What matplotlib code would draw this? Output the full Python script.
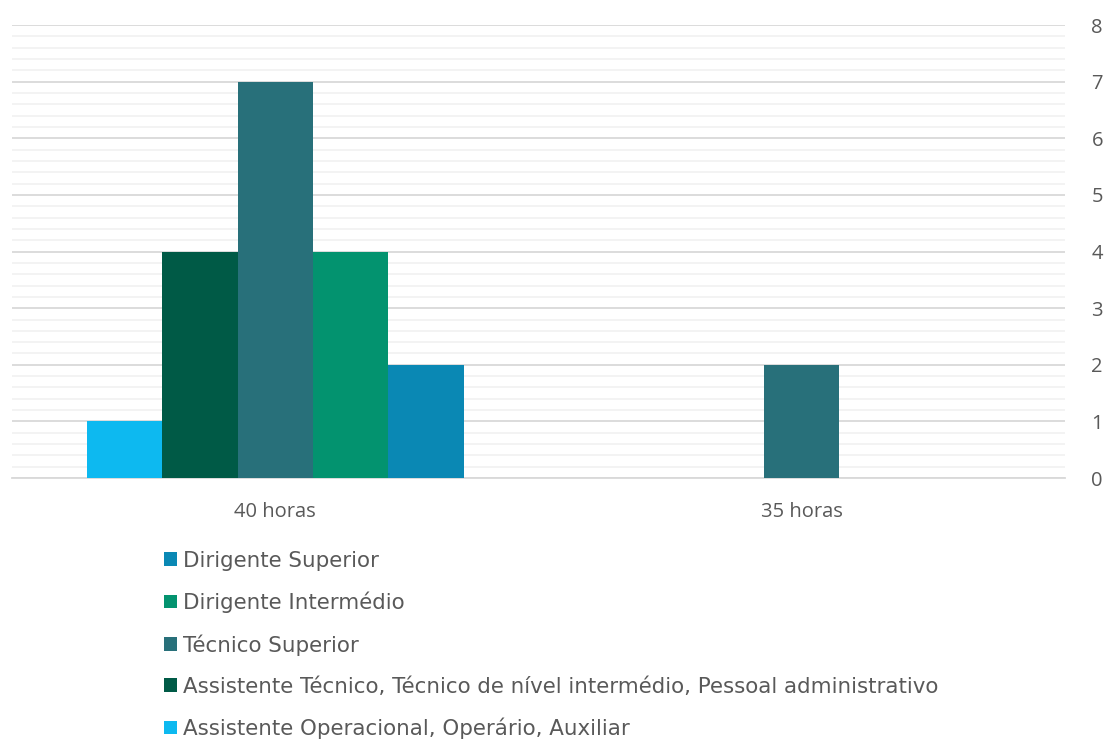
import matplotlib.pyplot as plt
import numpy as np
from matplotlib.patches import Patch
from matplotlib.ticker import MultipleLocator

# horas semanais por carreira
categories = ["40 horas", "35 horas"]
series_names = [
    "Assistente Operacional, Operário, Auxiliar",
    "Assistente Técnico, Técnico de nível intermédio, Pessoal administrativo",
    "Técnico Superior",
    "Dirigente Intermédio",
    "Dirigente Superior",
]
series_values = [
    [1, 0],
    [4, 0],
    [7, 2],
    [4, 0],
    [2, 0],
]
colors = ["#0DB9F0", "#005A46", "#28707A", "#03936F", "#0A88B4"]

fig = plt.figure(figsize=(11.04, 7.40), dpi=100)
ax = fig.add_axes([0.0109, 0.354, 0.9538, 0.612])

x = np.arange(len(categories))
width = 0.1432
n = len(series_names)
for i, (vals, col) in enumerate(zip(series_values, colors)):
    offs = (i - (n - 1) / 2) * width
    ax.bar(x + offs, vals, width=width, color=col, zorder=3)

ax.set_xlim(-0.5, 1.5)
ax.set_ylim(0, 8)
ax.yaxis.set_major_locator(MultipleLocator(1))
ax.yaxis.set_minor_locator(MultipleLocator(0.2))
ax.grid(axis="y", which="major", color="#D9D9D9", linewidth=1.3, zorder=0)
ax.grid(axis="y", which="minor", color="#F2F2F2", linewidth=1.3, zorder=0)
ax.set_axisbelow(True)

for s in ["top", "left", "right"]:
    ax.spines[s].set_visible(False)
ax.spines["bottom"].set_color("#D9D9D9")
ax.spines["bottom"].set_linewidth(1.3)

ax.yaxis.tick_right()
ax.set_xticks(x)
ax.set_xticklabels(categories)
ax.tick_params(axis="both", which="both", length=0)
ax.tick_params(axis="y", pad=19)
ax.tick_params(axis="x", pad=17)
for lab in ax.get_xticklabels() + ax.get_yticklabels():
    lab.set_fontfamily("Open Sans")
    lab.set_fontsize(14.5)
    lab.set_color("#595959")

handles = [Patch(facecolor=c, edgecolor="none") for c in colors][::-1]
labels = series_names[::-1]
leg = fig.legend(handles, labels, loc="upper left",
                 bbox_to_anchor=(0.135, 0.276), frameon=False,
                 handlelength=0.6, handleheight=0.6, handletextpad=0.3,
                 labelspacing=0.98, borderpad=0.2,
                 prop={"family": "DejaVu Sans", "size": 15.4})
for t in leg.get_texts():
    t.set_color("#595959")

fig.savefig("out.png", dpi=100)
